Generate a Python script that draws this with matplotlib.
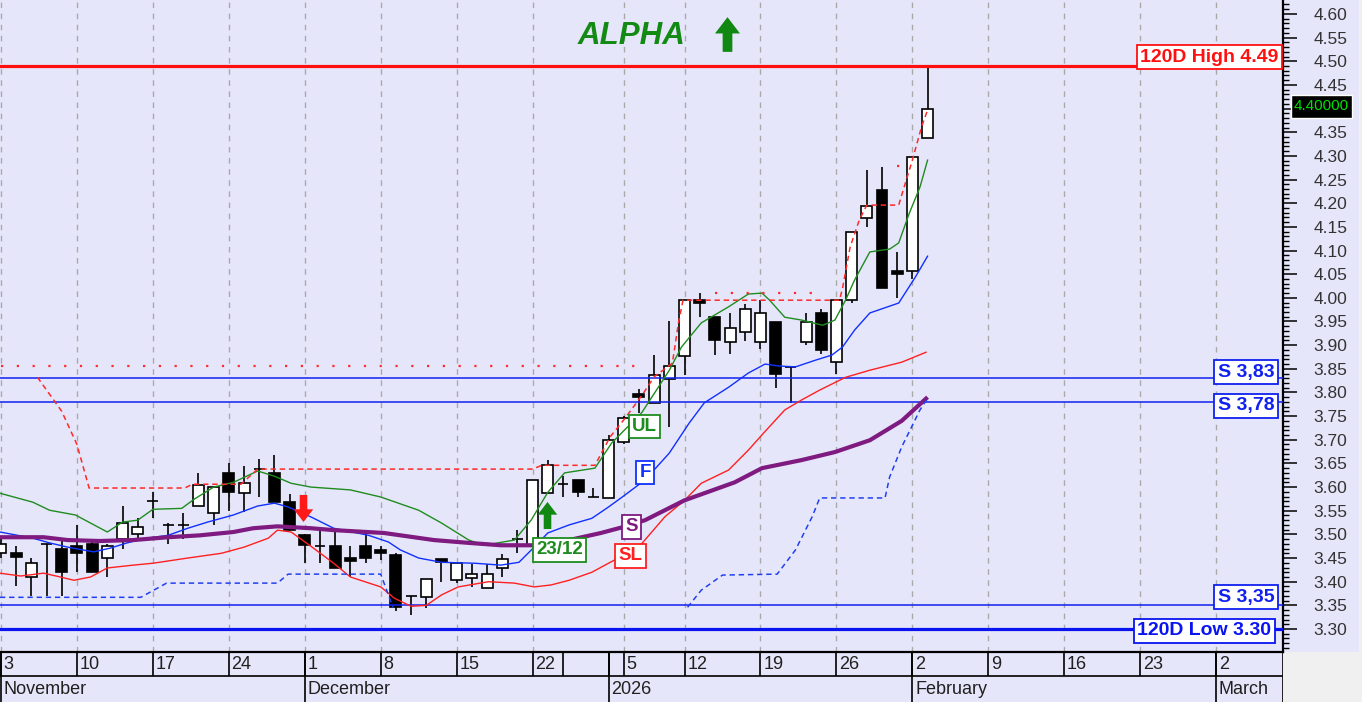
import numpy as np
import matplotlib
matplotlib.use("Agg")
import matplotlib.pyplot as plt
from matplotlib.path import Path
from matplotlib.patches import Rectangle
from matplotlib.ticker import MultipleLocator, FuncFormatter
from matplotlib.transforms import blended_transform_factory

plt.rcParams["font.family"] = ["Liberation Sans", "DejaVu Sans"]

# x = trading-day index, 0 = Mon 3 Nov 2025, 61 = Tue 3 Feb 2026
opens = [3.46, 3.46, 3.41, 3.48, 3.47, 3.475, 3.48, 3.45, 3.49, 3.50,
         3.57, 3.52, 3.52, 3.56, 3.545, 3.63, 3.587, 3.638, 3.63, 3.568,
         3.498, 3.475, 3.475, 3.45, 3.475, 3.467, 3.456, 3.37, 3.367, 3.448,
         3.403, 3.408, 3.386, 3.429, 3.49, 3.475, 3.587, 3.606, 3.615, 3.58,
         3.577, 3.695, 3.797, 3.778, 3.828, 3.877, 3.995, 3.96, 3.907, 3.928,
         3.907, 3.949, 3.854, 3.907, 3.968, 3.864, 3.995, 4.169, 4.228, 4.057,
         4.057, 4.338]
highs = [3.49, 3.475, 3.45, 3.48, 3.49, 3.52, 3.485, 3.48, 3.56, 3.535,
         3.59, 3.525, 3.545, 3.63, 3.60, 3.65, 3.645, 3.66, 3.668, 3.585,
         3.50, 3.51, 3.51, 3.475, 3.50, 3.475, 3.46, 3.37, 3.405, 3.448,
         3.44, 3.437, 3.437, 3.458, 3.51, 3.615, 3.657, 3.623, 3.615, 3.598,
         3.71, 3.75, 3.807, 3.879, 3.95, 3.995, 4.01, 3.96, 3.968, 3.987,
         3.995, 3.949, 3.854, 3.968, 3.976, 3.995, 4.139, 4.27, 4.276, 4.097,
         4.298, 4.49]
lows = [3.45, 3.39, 3.37, 3.37, 3.37, 3.42, 3.42, 3.41, 3.47, 3.49,
        3.535, 3.48, 3.49, 3.56, 3.52, 3.55, 3.547, 3.58, 3.568, 3.51,
        3.44, 3.44, 3.43, 3.41, 3.44, 3.445, 3.338, 3.33, 3.345, 3.40,
        3.397, 3.389, 3.386, 3.41, 3.46, 3.475, 3.587, 3.58, 3.58, 3.58,
        3.577, 3.69, 3.756, 3.778, 3.727, 3.837, 3.96, 3.88, 3.881, 3.909,
        3.892, 3.81, 3.778, 3.90, 3.881, 3.839, 3.99, 4.15, 4.021, 4.0,
        4.04, 4.338]
closes = [3.48, 3.452, 3.44, 3.48, 3.42, 3.46, 3.42, 3.475, 3.525, 3.515,
          3.57, 3.52, 3.52, 3.605, 3.60, 3.59, 3.608, 3.638, 3.568, 3.51,
          3.477, 3.475, 3.43, 3.443, 3.45, 3.46, 3.346, 3.37, 3.405, 3.442,
          3.44, 3.416, 3.416, 3.448, 3.49, 3.615, 3.646, 3.606, 3.589, 3.58,
          3.70, 3.746, 3.79, 3.837, 3.856, 3.995, 3.99, 3.91, 3.936, 3.976,
          3.968, 3.839, 3.854, 3.949, 3.89, 3.995, 4.139, 4.194, 4.021, 4.05,
          4.298, 4.40]

# indicator lines (index, price) read at their bends
ul_x = [-0.07, 2.1, 3.2, 4.9, 7.0, 8.0, 9.0, 10.0, 11.9, 12.7, 14.0, 15.3, 16.9, 18.0,
        19.1, 20.4, 23.0, 25.0, 27.5, 29.0, 30.8, 31.8, 33.8, 34.9, 36.0, 37.1, 39.1,
        40.2, 42.2, 44.0, 44.8, 46.1, 47.9, 49.2, 50.1, 50.6, 51.6, 52.7, 54.1, 54.9,
        55.6, 56.2, 57.2, 58.5, 59.1, 59.8, 60.5, 61.0]
ul_y = [3.587, 3.568, 3.551, 3.541, 3.505, 3.526, 3.530, 3.553, 3.555, 3.574, 3.600,
        3.610, 3.634, 3.623, 3.608, 3.600, 3.594, 3.579, 3.551, 3.524, 3.488, 3.477,
        3.488, 3.530, 3.589, 3.630, 3.640, 3.693, 3.758, 3.847, 3.896, 3.947, 3.981,
        4.008, 4.010, 3.995, 3.959, 3.953, 3.942, 3.953, 3.995, 4.038, 4.097, 4.103,
        4.116, 4.179, 4.234, 4.291]

f_x = [-0.07, 2.1, 3.2, 4.4, 6.1, 7.2, 8.3, 9.6, 11.0, 12.3, 13.6, 15.3, 16.9, 18.0,
       18.9, 20.4, 21.9, 24.2, 25.5, 26.3, 27.5, 29.0, 31.2, 32.9, 34.1, 35.1, 36.0,
       37.4, 38.9, 40.0, 40.9, 42.4, 44.0, 45.3, 46.3, 47.9, 49.2, 50.3, 51.2, 52.3,
       53.6, 54.7, 55.4, 56.2, 57.2, 59.1, 60.2, 61.0]
f_y = [3.505, 3.492, 3.482, 3.473, 3.463, 3.471, 3.482, 3.492, 3.498, 3.513, 3.526,
       3.541, 3.560, 3.566, 3.558, 3.537, 3.513, 3.498, 3.484, 3.467, 3.450, 3.441,
       3.439, 3.435, 3.441, 3.473, 3.503, 3.520, 3.534, 3.558, 3.579, 3.615, 3.672,
       3.735, 3.778, 3.811, 3.841, 3.860, 3.856, 3.854, 3.868, 3.879, 3.896, 3.932,
       3.968, 3.989, 4.044, 4.088]

sl_x = [-0.07, 1.3, 2.8, 3.9, 4.8, 5.9, 7.0, 8.7, 10.0, 12.3, 14.5, 16.0, 17.6, 18.2,
        19.1, 20.4, 21.9, 23.0, 25.0, 25.9, 27.0, 28.0, 29.0, 30.1, 32.1, 33.8, 35.1,
        36.2, 37.4, 38.9, 40.4, 42.2, 43.7, 45.0, 46.1, 47.9, 49.2, 50.2, 51.6, 52.7,
        53.9, 55.6, 57.2, 59.3, 60.9]
sl_y = [3.418, 3.412, 3.418, 3.410, 3.403, 3.410, 3.429, 3.435, 3.439, 3.450, 3.460,
        3.473, 3.492, 3.509, 3.505, 3.475, 3.439, 3.410, 3.389, 3.365, 3.348, 3.350,
        3.372, 3.389, 3.400, 3.397, 3.389, 3.393, 3.403, 3.420, 3.446, 3.481, 3.537,
        3.572, 3.608, 3.636, 3.678, 3.714, 3.763, 3.784, 3.805, 3.832, 3.847, 3.864,
        3.885]

s_x = [-0.07, 2.8, 4.4, 6.5, 8.7, 11.0, 13.1, 15.3, 16.6, 18.2, 20.4, 21.9, 25.2, 28.5,
       30.8, 32.9, 35.1, 37.4, 39.5, 40.9, 42.4, 45.0, 48.3, 50.1, 52.7, 54.9, 57.2,
       59.3, 61.0]
s_y = [3.494, 3.494, 3.488, 3.486, 3.488, 3.494, 3.498, 3.505, 3.513, 3.517, 3.513,
       3.509, 3.503, 3.488, 3.482, 3.477, 3.477, 3.488, 3.503, 3.515, 3.530, 3.572,
       3.610, 3.640, 3.657, 3.674, 3.699, 3.740, 3.790]

stop_hi_x = [2.4, 4.0, 5.0, 5.8, 12.1, 12.6, 15.8, 16.9, 35.0, 35.6, 39.1, 40.1, 41.0,
             42.2, 43.0, 44.2, 44.6, 44.9, 55.2, 55.4, 55.9, 56.5, 57.0, 59.1, 59.4,
             60.0, 60.6, 61.0]
stop_hi_y = [3.832, 3.76, 3.69, 3.598, 3.598, 3.606, 3.606, 3.638, 3.638, 3.646, 3.646,
             3.706, 3.742, 3.794, 3.833, 3.862, 3.947, 3.995, 3.995, 4.02, 4.107, 4.164,
             4.196, 4.196, 4.228, 4.291, 4.361, 4.397]

stop_lo1_x = [-0.07, 9.2, 10.9, 18.2, 18.9, 25.0, 25.8]
stop_lo1_y = [3.367, 3.367, 3.397, 3.397, 3.416, 3.416, 3.346]
stop_lo2_x = [45.2, 46.1, 47.5, 51.1, 52.3, 53.4, 53.9, 58.2, 58.5, 59.3, 60.5, 61.0]
stop_lo2_y = [3.346, 3.382, 3.414, 3.416, 3.467, 3.537, 3.577, 3.577, 3.621, 3.685,
              3.763, 3.788]

old_high_x = [[0, 42], [47, 54], [59, 59.2]]
old_high_y = [3.856, 4.010, 4.278]

hi_120 = 4.49
lo_120 = 3.30
supports = [3.83, 3.78, 3.35]
last_price = 4.40

day_tick_idx = [0, 5, 10, 15, 20, 25, 30, 35, 37, 40, 41, 45, 50, 55, 60, 65, 70, 75, 80]
day_tick_lbl = ["3", "10", "17", "24", "1", "8", "15", "22", "", "", "5", "12", "19",
                "26", "2", "9", "16", "23", "2"]
month_idx = [0, 20, 40, 60, 80]
month_lbl = ["November", "December", "2026", "February", "March"]
grid_idx = [0, 5, 10, 15, 20, 25, 30, 35, 41, 45, 50, 55, 60, 65, 70, 75, 80]

BG = "#E6E6FA"
W, H = 1362, 702
XL = (-0.066, 84.4)
YL = (3.2514, 4.6295)

fig = plt.figure(figsize=(W / 100, H / 100), dpi=100, facecolor=BG)
fig.patches.append(Rectangle((1283 / W, 0), 1, 50 / H, transform=fig.transFigure,
                             fc="#F0F0F0", ec="none", zorder=-1))
fig.patches.append(Rectangle((1359 / W, 0), 1, 1, transform=fig.transFigure,
                             fc="#F0F0F0", ec="none", zorder=-1))

ax = fig.add_axes([0, 50 / H, 1283 / W, 652 / H])
ax.set_facecolor(BG)
ax.set_xlim(*XL)
ax.set_ylim(*YL)

ax.vlines(grid_idx, YL[0], YL[1], colors="#A9A9A9", linestyles=(0, (4, 4)), lw=1, zorder=0.5)

# candles
o = np.array(opens)
c = np.array(closes)
idx = np.arange(len(o))
ax.vlines(idx, lows, highs, color="black", lw=1.2, zorder=2)
ax.bar(idx, np.abs(c - o), bottom=np.minimum(o, c), width=0.72,
       color=np.where(c >= o, "white", "black"), edgecolor="black", linewidth=1.2, zorder=3)

# levels
ax.axhline(hi_120, color="#FF1010", lw=2.3, zorder=4)
ax.axhline(lo_120, color="#0A14F0", lw=2.3, zorder=4)
for s in supports:
    ax.axhline(s, color="#1020F0", lw=1.1, zorder=4)

# indicators
ax.plot(ul_x, ul_y, color="#1E8C1E", lw=1.0, zorder=5)
ax.plot(f_x, f_y, color="#1030FF", lw=1.0, zorder=5)
ax.plot(sl_x, sl_y, color="#FF2020", lw=1.0, zorder=5)
ax.plot(s_x, s_y, color="#7E1A80", lw=3.0, zorder=5, solid_capstyle="butt")
ax.plot(stop_hi_x, stop_hi_y, color="#FF2A2A", lw=1.1, dashes=(3.5, 2.5), zorder=5)
ax.plot(stop_lo1_x, stop_lo1_y, color="#2040F0", lw=1.1, dashes=(3.5, 2.5), zorder=5)
ax.plot(stop_lo2_x, stop_lo2_y, color="#2040F0", lw=1.1, dashes=(3.5, 2.5), zorder=5)
for xs, yv in zip(old_high_x, old_high_y):
    ax.plot(xs, [yv, yv], color="#FF2A2A", lw=1.6, dashes=(1, 6.1), zorder=5)

# axes look
for side in ("left", "top"):
    ax.spines[side].set_visible(False)
ax.spines["right"].set_linewidth(1.6)
ax.spines["bottom"].set_linewidth(1.6)
ax.set_xticks([])
ax.yaxis.tick_right()
ax.set_yticks(np.arange(3.30, 4.601, 0.05))
# the 4.40 label sits under the last-price box
ax.yaxis.set_major_formatter(FuncFormatter(
    lambda v, p: "" if abs(v - last_price) < 0.001 else f"{v:.2f}"))
ax.yaxis.set_minor_locator(MultipleLocator(0.01))
ax.tick_params(axis="y", which="major", length=10, width=1.1, pad=12, labelsize=12.5,
               labelcolor="#333333")
ax.tick_params(axis="y", which="minor", length=4, width=1.0)


def tag(x, y, s, col, size=13.5, ha="center", tr=None):
    ax.text(x, y, s, color=col, fontsize=size, fontweight="bold", ha=ha, va="center",
            transform=tr or ax.transData, zorder=10,
            bbox=dict(boxstyle="square,pad=0.18", fc="white", ec=col, lw=1.3))


tag(42.36, 3.728, "UL", "#1E8C1E")
tag(42.4, 3.631, "F", "#1030FF")
tag(41.5, 3.516, "S", "#7E1A80")
tag(41.44, 3.455, "SL", "#FF2020")
tag(36.77, 3.467, "23/12", "#1E8C1E")

side = blended_transform_factory(ax.transAxes, ax.transData)
tag(0.9965, 4.509, f"120D High {hi_120:.2f}", "#FF1010", size=14, ha="right", tr=side)
tag(0.9934, 3.843, "S 3,83", "#1020F0", size=14, ha="right", tr=side)
tag(0.9934, 3.772, "S 3,78", "#1020F0", size=14, ha="right", tr=side)
tag(0.9934, 3.367, "S 3,35", "#1020F0", size=14, ha="right", tr=side)
tag(0.991, 3.296, f"120D Low {lo_120:.2f}", "#0A14F0", size=14, ha="right", tr=side)

# last price box on the price scale
ax.add_patch(Rectangle((1.0062, 4.380), 0.0475, 0.049, transform=side, clip_on=False,
                       fc="black", ec="white", lw=1, zorder=11))
ax.text(1.0300, 4.4045, f"{last_price:.5f}", color="#00E000", fontsize=11, ha="center",
        va="center", transform=side, zorder=12)

ax.text(41.5, 4.553, "ALPHA", color="#138A13", fontsize=22.5, fontweight="bold",
        fontstyle="italic", ha="center", va="center", zorder=10)

arrow_up = Path([(-0.14, -0.5), (0.14, -0.5), (0.14, 0.03), (0.36, 0.03), (0, 0.5),
                 (-0.36, 0.03), (-0.14, 0.03), (-0.14, -0.5)], closed=True)
arrow_dn = Path([(x, -y) for x, y in arrow_up.vertices], closed=True)
ax.plot(47.8, 4.557, marker=arrow_up, ms=25, color="#118811", mew=0, zorder=10)
ax.plot(35.95, 3.541, marker=arrow_up, ms=19.5, color="#118811", mew=0, zorder=10)
ax.plot(19.85, 3.555, marker=arrow_dn, ms=19.5, color="#FF1A1A", mew=0, zorder=10)

# date band
bx = fig.add_axes([0, 0, 1283 / W, 50 / H])
bx.set_xlim(*XL)
bx.set_ylim(0, 1)
bx.axis("off")
bx.hlines(0.52, XL[0], XL[1], color="black", lw=1.2)
bx.vlines(day_tick_idx, 0.52, 1, color="black", lw=1.2)
bx.vlines(month_idx, 0, 1, color="black", lw=1.2)
bx.vlines(XL[1] - 0.02, 0, 1, color="black", lw=1.2)
for i, s in zip(day_tick_idx, day_tick_lbl):
    bx.text(i + 0.18, 0.75, s, ha="left", va="center", fontsize=13, color="#202020")
for i, s in zip(month_idx, month_lbl):
    bx.text(i + 0.18, 0.25, s, ha="left", va="center", fontsize=13, color="#202020")

fig.savefig("out.png", dpi=100, facecolor=BG)
